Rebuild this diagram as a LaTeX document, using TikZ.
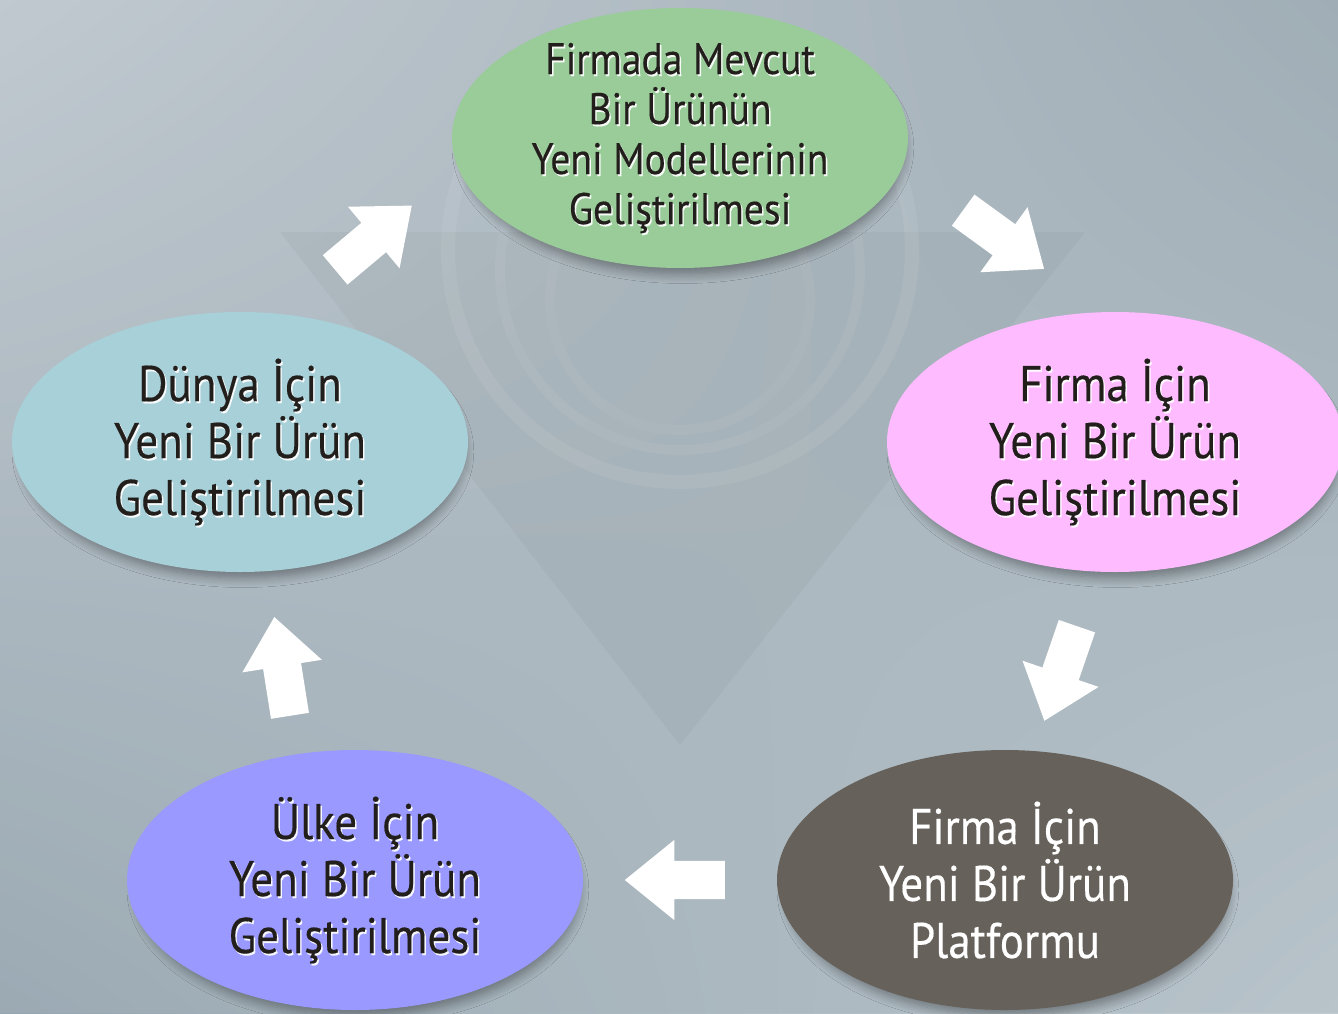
\documentclass[tikz,border=0pt]{standalone}
\usepackage{fontspec}
\setmainfont{PT Sans}[FakeStretch=0.9, FakeBold=0.3]
\usetikzlibrary{shapes.geometric,shapes.arrows,shadows.blur,shadings}
\definecolor{cgreen}{RGB}{153,204,153}
\definecolor{cpink}{RGB}{255,187,255}
\definecolor{ccyan}{RGB}{168,208,216}
\definecolor{cdark}{RGB}{102,97,90}
\definecolor{cpurple}{RGB}{153,153,255}
\definecolor{ctext}{RGB}{34,30,28}
\definecolor{bgtl}{RGB}{204,211,217}
\definecolor{bgtr}{RGB}{157,171,180}
\definecolor{bgbl}{RGB}{150,166,176}
\definecolor{bgbr}{RGB}{192,203,209}
\definecolor{bgmid}{RGB}{168,180,188}
\tikzset{
  bubble/.style={ellipse, inner sep=0pt, minimum width=456pt, minimum height=260pt,
    blur shadow={shadow scale=0.97, shadow xshift=3pt, shadow yshift=-10pt, shadow blur steps=12, shadow opacity=38, shadow blur radius=10pt}},
  bigtxt/.style={align=center, text=ctext, font=\fontsize{50}{57}\selectfont, inner sep=0pt},
  smalltxt/.style={align=center, text=ctext, font=\fontsize{44}{50}\selectfont, inner sep=0pt},
  glow/.style={text=white, text opacity=0.9},
  blockarrow/.style={single arrow, fill=white, draw=none, inner xsep=0pt, inner ysep=19pt,
    minimum height=100pt, single arrow head extend=21pt, single arrow tip angle=78, text width=0pt, anchor=tail}
}
\begin{document}
\begin{tikzpicture}[x=1pt, y=-1pt]
\useasboundingbox (0,0) rectangle (1338,1013);
% background
\shade[upper left=bgtl, upper right=bgtr, lower left=bgbl, lower right=bgbr] (0,0) rectangle (1338,1013);
\fill[bgmid, opacity=0.3] (0,0) rectangle (1338,1013);
% faint emblem
\fill[black, opacity=0.03] (280,232) -- (1085,232) -- (680,745) -- cycle;
\draw[white, opacity=0.07, line width=14pt] (680,250) circle (232);
\draw[white, opacity=0.05, line width=10pt] (680,270) circle (180);
\draw[white, opacity=0.04, line width=10pt] (680,300) circle (130);
% ellipses
\node[bubble, fill=cgreen] (top) at (680,138) {};
\node[bubble, fill=cpink] (right) at (1115,442) {};
\node[bubble, fill=ccyan] (left) at (240,442) {};
\node[bubble, fill=cdark] (bright) at (1005,880) {};
\node[bubble, fill=cpurple] (bleft) at (355,880) {};
% texts
\node[smalltxt, glow] at ([shift={(1.5,2)}]top) {Firmada Mevcut\\Bir Ürünün\\Yeni Modellerinin\\Geliştirilmesi};
\node[smalltxt] (ttop) at (top) {Firmada Mevcut\\Bir Ürünün\\Yeni Modellerinin\\Geliştirilmesi};
\node[bigtxt, glow] at ([shift={(1.5,2)}]right) {Firma İçin\\Yeni Bir Ürün\\Geliştirilmesi};
\node[bigtxt] (tright) at (right) {Firma İçin\\Yeni Bir Ürün\\Geliştirilmesi};
\node[bigtxt, glow] at ([shift={(1.5,2)}]left) {Dünya İçin\\Yeni Bir Ürün\\Geliştirilmesi};
\node[bigtxt] (tleft) at (left) {Dünya İçin\\Yeni Bir Ürün\\Geliştirilmesi};
\node[bigtxt, text=white] (tbright) at (bright) {Firma İçin\\Yeni Bir Ürün\\Platformu};
\node[bigtxt, glow] at ([shift={(1.5,2)}]bleft) {Ülke İçin\\Yeni Bir Ürün\\Geliştirilmesi};
\node[bigtxt] (tbleft) at (bleft) {Ülke İçin\\Yeni Bir Ürün\\Geliştirilmesi};
% block arrows (placed by their tails)
\node[blockarrow, rotate=40] (a1) at (335,270) {};
\node[blockarrow, rotate=-36] (a2) at (963,210) {};
\node[blockarrow, rotate=-109] (a3) at (1077,626) {};
\node[blockarrow, rotate=180] (a4) at (725,880) {};
\node[blockarrow, rotate=99] (a5) at (290,716) {};
\end{tikzpicture}
\end{document}
